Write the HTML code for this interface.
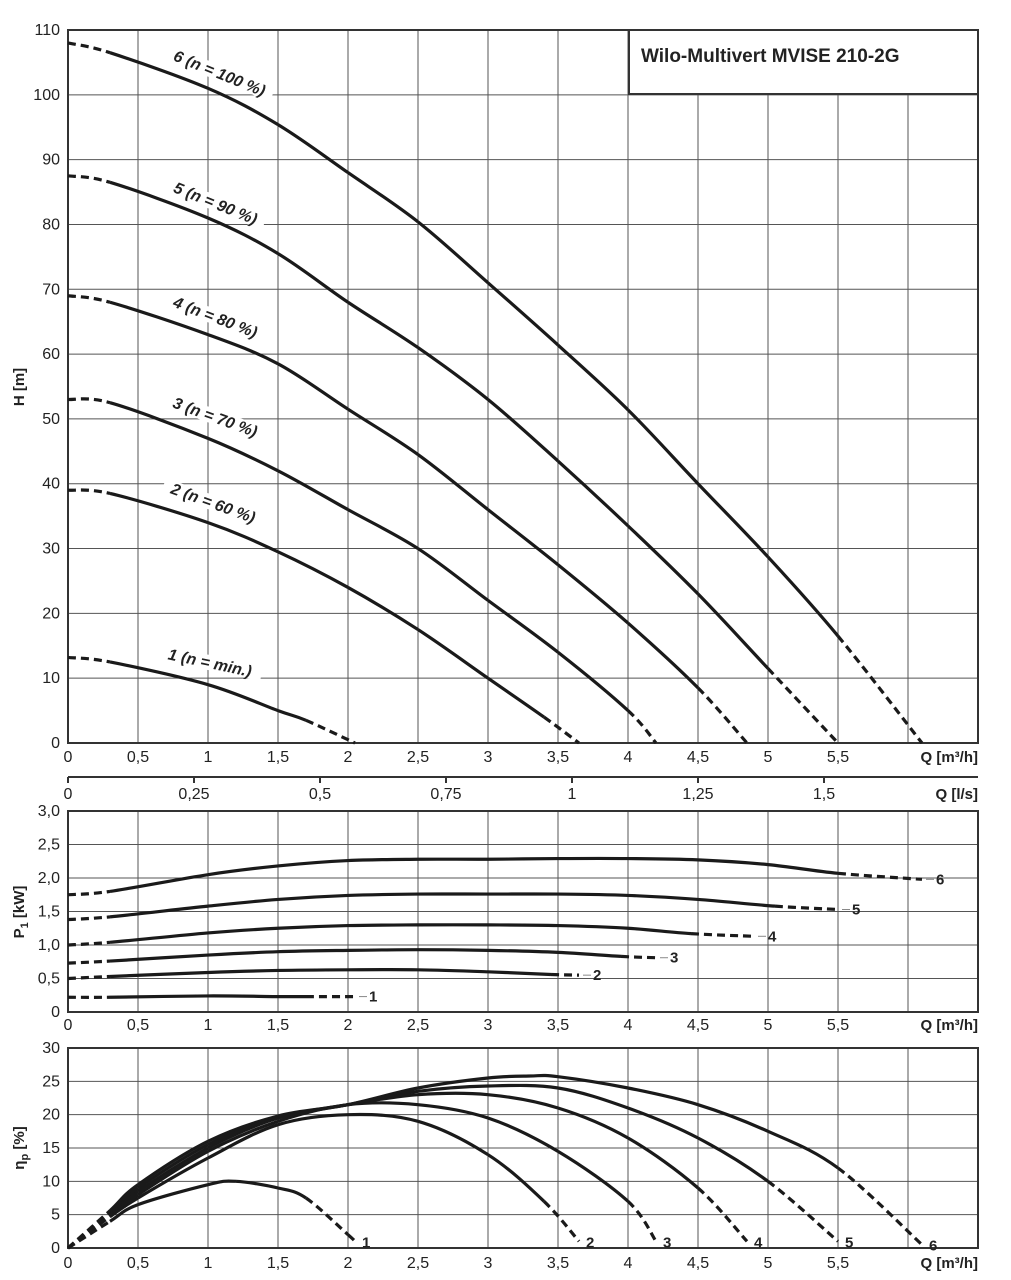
<!DOCTYPE html>
<html><head><meta charset="utf-8"><style>
body{margin:0;background:#fff}
svg{display:block;font-family:"Liberation Sans",sans-serif}
.tk{font-size:16px;fill:#222}
.ax{font-size:15px;font-weight:bold;fill:#222}
.cl{font-size:16px;font-weight:bold;font-style:italic;fill:#222}
</style></head><body>
<svg id="c" width="1011" height="1280" viewBox="0 0 1011 1280">
<rect x="0" y="0" width="1011" height="1280" fill="#fff"/>
</svg>
<script>
const qTicks=[0,0.5,1,1.5,2,2.5,3,3.5,4,4.5,5,5.5];
const lsTicks=[0,0.25,0.5,0.75,1,1.25,1.5];
const hTicks=[0,10,20,30,40,50,60,70,80,90,100,110];
const pTicks=[0,0.5,1.0,1.5,2.0,2.5,3.0];
const eTicks=[0,5,10,15,20,25,30];
// head curves
const hQ1=[0,0.3,1,1.5,1.7,2.05], hV1=[13.2,12.5,9,5,3.5,0];
const hQ2=[0,0.3,1,1.5,2,2.5,3,3.4,3.65], hV2=[39,38.5,34,29.5,24,17.5,10,4,0];
const hQ3=[0,0.3,1,1.5,2,2.5,3,3.5,4,4.2], hV3=[53,52.5,47,42,36,30,22,14,5,0];
const hQ4=[0,0.3,1,1.5,2,2.5,3,3.5,4,4.5,4.85], hV4=[69,68,63,58.5,51.5,44.5,36,27.5,18.5,8.5,0];
const hQ5=[0,0.3,1,1.5,2,2.5,3,3.5,4,4.5,5,5.5], hV5=[87.5,86.5,81,75.5,68,61,53,43.5,33.5,23,11.5,0];
const hQ6=[0,0.3,1,1.5,2,2.5,3,3.5,4,4.5,5,5.5,6.1], hV6=[108,106.5,101,95.4,88,80.4,71,61.4,51.4,40,28.7,16.5,0];
const hSolidEnd=[1.7,3.4,4,4.5,5,5.5];
// power curves
const pQ1=[0,0.3,1,1.5,1.7,2.05], pV1=[0.22,0.22,0.24,0.23,0.23,0.23];
const pQ2=[0,0.3,1,1.5,2,2.5,3,3.45,3.65], pV2=[0.5,0.53,0.59,0.62,0.63,0.63,0.6,0.56,0.55];
const pQ3=[0,0.3,1,1.5,2,2.5,3,3.5,3.95,4.2], pV3=[0.73,0.76,0.85,0.9,0.92,0.93,0.92,0.89,0.83,0.81];
const pQ4=[0,0.3,1,1.5,2,2.5,3,3.5,4,4.45,4.9], pV4=[1.0,1.04,1.18,1.25,1.29,1.3,1.3,1.29,1.25,1.17,1.13];
const pQ5=[0,0.3,1,1.5,2,2.5,3,3.5,4,4.5,5.05,5.5], pV5=[1.38,1.42,1.58,1.68,1.74,1.76,1.76,1.76,1.74,1.68,1.58,1.53];
const pQ6=[0,0.3,1,1.5,2,2.5,3,3.5,4,4.5,5,5.5,6.1], pV6=[1.75,1.8,2.05,2.18,2.26,2.28,2.28,2.29,2.29,2.27,2.2,2.07,1.98];
const pSolidEnd=[1.7,3.45,3.95,4.45,5.05,5.5];
// efficiency curves
const eQ1=[0,0.3,0.5,1,1.2,1.5,1.7,2,2.05], eV1=[0,4,6.5,9.5,10,9,7.5,2,1];
const eQ2=[0,0.3,0.5,1,1.5,2,2.5,3,3.4,3.65], eV2=[0,4.7,7.5,13.5,18.5,20,19,14,7,1];
const eQ3=[0,0.3,0.5,1,1.5,2,2.5,3,3.5,4,4.2], eV3=[0,5,8,14.5,19,21.5,21.5,19.5,14.5,7,1];
const eQ4=[0,0.3,0.5,1,1.5,2,2.5,3,3.5,4,4.5,4.85], eV4=[0,5.2,8.5,15,19.5,21.5,23,23,21,16.5,9,1];
const eQ5=[0,0.3,0.5,1,1.5,2,2.5,3,3.5,4,4.5,5,5.5], eV5=[0,5.4,9,15.5,19.5,21.5,23.5,24.3,24,21,16.5,10,1];
const eQ6=[0,0.3,0.5,1,1.5,2,2.5,3,3.3,3.5,4,4.5,5,5.5,6.1], eV6=[0,5.6,9.5,16,19.8,21.5,24,25.5,25.8,25.7,24,21.5,17.5,12,0.5];
const eSolidEnd=[1.7,3.4,4,4.5,5,5.5];

const NS="http://www.w3.org/2000/svg";
const svg=document.getElementById('c');
const X0=68,XS=140;
const qx=q=>X0+q*XS;
const XR=978;
function el(t,a,p){const e=document.createElementNS(NS,t);for(const k in a)e.setAttribute(k,a[k]);(p||svg).appendChild(e);return e;}
function txt(x,y,s,cls,anchor){const t=el('text',{x:x,y:y,class:cls,'text-anchor':anchor||'middle'});t.textContent=s;return t;}
const fmt=v=>String(v).replace('.',',');

function panel(name,top,bot,yMax,yTicks,yFmt){
  const ys=v=>bot-(v/yMax)*(bot-top);
  const g=el('g',{});
  
  
  const grid=el('g',{},g);
  
  
  for(let q=0.5;q<6.5;q+=0.5) el('line',{x1:qx(q),x2:qx(q),y1:top,y2:bot,stroke:'#555','stroke-width':1},grid);
  yTicks.forEach(v=>{el('line',{x1:X0,x2:XR,y1:ys(v),y2:ys(v),stroke:'#555','stroke-width':1},grid);
    const t=txt(X0-8,ys(v)+5,yFmt(v),'tk','end');
    
    });
  el('rect',{x:X0,y:top,width:XR-X0,height:bot-top,fill:'none',stroke:'#333','stroke-width':2},g);
  return ys;
}
function seg(pts,i){const p0=pts[Math.max(0,i-1)],p1=pts[i],p2=pts[i+1],p3=pts[Math.min(pts.length-1,i+2)];
  const c1=[p1[0]+(p2[0]-p0[0])/6,p1[1]+(p2[1]-p0[1])/6],c2=[p2[0]-(p3[0]-p1[0])/6,p2[1]-(p3[1]-p1[1])/6];
  return `M${p1[0]},${p1[1]} C${c1[0]},${c1[1]} ${c2[0]},${c2[1]} ${p2[0]},${p2[1]}`;}
function curve(name,Q,V,ys,solidEnd){
  const pts=Q.map((q,i)=>[qx(q),ys(V[i])]);
  const g=el('g',{});
  
  
  for(let i=0;i<pts.length-1;i++){
    const solid=Q[i]>=0.3-1e-9&&Q[i+1]<=solidEnd+1e-9;
    el('path',{d:seg(pts,i),fill:'none',stroke:'#1a1a1a','stroke-width':3.2,'stroke-dasharray':solid?'none':'8,5'},g);
  }
}
function xAxis(y,label){
  qTicks.forEach(q=>{const t=txt(qx(q),y,fmt(q),'tk');
    
    });
  const a=txt(XR,y,label,'ax','end');
  
  
}
// Top panel
const yH=panel('head',30,743,110,hTicks,v=>v);
const box=el('rect',{x:629,y:30,width:349,height:64,fill:'#fff',stroke:'#333','stroke-width':2});


const ti=txt(641,62,'Wilo-Multivert MVISE 210-2G','ax','start');ti.setAttribute('style','font-size:19px');


[[hQ1,hV1],[hQ2,hV2],[hQ3,hV3],[hQ4,hV4],[hQ5,hV5],[hQ6,hV6]].forEach((c,i)=>curve('head-curve-'+(i+1),c[0],c[1],yH,hSolidEnd[i]));
const labs=[['1 (n = min.)',208,672,12],['2 (n = 60 %)',210,512,20],['3 (n = 70 %)',212,426,20],['4 (n = 80 %)',212,326,21],['5 (n = 90 %)',212,212,22],['6 (n = 100 %)',216,82,22]];
labs.forEach(l=>{const g=el('g',{transform:`translate(${l[1]},${l[2]}) rotate(${l[3]})`});
  
  
  const w=l[0].length*8.8;
  el('rect',{x:-w/2,y:-17,width:w,height:15,fill:'#fff'},g);
  const t=el('text',{x:0,y:-4,class:'cl','text-anchor':'middle'},g);t.textContent=l[0];});
const yt=txt(0,0,'H [m]','ax');yt.setAttribute('transform','translate(24,387) rotate(-90)');


xAxis(762,'Q [m³/h]');
// l/s axis
const ls=el('g',{});


el('line',{x1:X0,x2:XR,y1:777,y2:777,stroke:'#333','stroke-width':2},ls);
lsTicks.forEach(v=>{const x=qx(v*3.6);el('line',{x1:x,x2:x,y1:777,y2:783,stroke:'#333','stroke-width':2},ls);
  const t=txt(x,799,fmt(v),'tk');});
const lt=txt(XR,799,'Q [l/s]','ax','end');
// Power
const yP=panel('power',811,1012,3,pTicks,v=>v.toFixed(1).replace('.',',').replace(/^0,0$/,'0'));
[[pQ1,pV1],[pQ2,pV2],[pQ3,pV3],[pQ4,pV4],[pQ5,pV5],[pQ6,pV6]].forEach((c,i)=>{curve('power-curve-'+(i+1),c[0],c[1],yP,pSolidEnd[i]);
  const q=c[0][c[0].length-1],v=c[1][c[1].length-1];
  el('line',{x1:qx(q)+4,x2:qx(q)+12,y1:yP(v),y2:yP(v),stroke:'#888'});
  const t=txt(qx(q)+14,yP(v)+5,String(i+1),'ax','start');});
const pt=txt(0,0,'P','ax');pt.innerHTML='P<tspan font-size="11" dy="4">1</tspan><tspan dy="-4"> [kW]</tspan>';pt.setAttribute('transform','translate(24,912) rotate(-90)');

xAxis(1030,'Q [m³/h]');
// Efficiency
const yE=panel('efficiency',1048,1248,30,eTicks,v=>v);
[[eQ1,eV1],[eQ2,eV2],[eQ3,eV3],[eQ4,eV4],[eQ5,eV5],[eQ6,eV6]].forEach((c,i)=>{curve('efficiency-curve-'+(i+1),c[0],c[1],yE,eSolidEnd[i]);
  const q=c[0][c[0].length-1],v=c[1][c[1].length-1];
  const t=txt(qx(q)+7,yE(v)+6,String(i+1),'ax','start');});
const et=txt(0,0,'','ax');et.innerHTML='η<tspan font-size="11" dy="4">p</tspan><tspan dy="-4"> [%]</tspan>';et.setAttribute('transform','translate(24,1148) rotate(-90)');

xAxis(1268,'Q [m³/h]');
</script>
</body></html>
